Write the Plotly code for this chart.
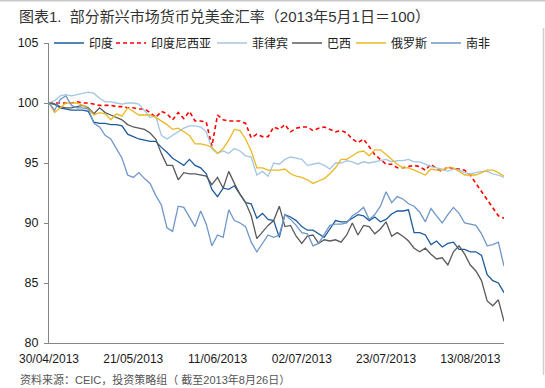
import plotly.graph_objects as go

# ---- data ----
dates = (["30/04/2013"]
         + [f"{d:02d}/05/2013" for d in [1, 2, 3, 6, 7, 8, 9, 10, 13, 14, 15, 16, 17, 20, 21, 22, 23, 24, 27, 28, 29, 30, 31]]
         + [f"{d:02d}/06/2013" for d in [3, 4, 5, 6, 7, 10, 11, 12, 13, 14, 17, 18, 19, 20, 21, 24, 25, 26, 27, 28]]
         + [f"{d:02d}/07/2013" for d in [1, 2, 3, 4, 5, 8, 9, 10, 11, 12, 15, 16, 17, 18, 19, 22, 23, 24, 25, 26, 29, 30, 31]]
         + [f"{d:02d}/08/2013" for d in [1, 2, 5, 6, 7, 8, 9, 12, 13, 14, 15, 16, 19, 20, 21]])

tick_labels = ["30/04/2013", "21/05/2013", "11/06/2013", "02/07/2013", "23/07/2013", "13/08/2013"]

india = [100, 99.9, 99.6, 99.5, 99.4, 99.4, 99.4, 99.3, 98.4, 98.3, 98.3, 98.2, 98.2, 98.1, 97.4, 97.2, 97.0, 96.9, 96.8, 96.8,
         96.3, 95.9, 95.4, 95.1, 94.8, 95.3, 94.8, 94.6, 94.1, 92.8, 92.2, 92.9, 92.8, 93.1, 92.4, 91.7, 91.6, 90.4, 90.8, 90.3,
         90.2, 88.8, 90.7, 90.5, 90.2, 89.7, 89.4, 89.4, 89.1, 88.8, 89.5, 90.2, 90.1, 90.1, 90.4, 90.7, 90.6, 90.2, 90.5, 90.1,
         90.3, 90.75, 91.0, 91.0, 91.1, 89.2, 89.2, 89.0, 88.2, 88.5, 88.0, 88.3, 88.4, 87.8, 87.8, 87.6, 87.6, 87.3, 85.7, 85.2,
         85.0, 84.2]

indonesia = [100, 100, 100, 100, 100, 100.1, 100, 100, 99.9, 99.8, 99.8, 99.8, 99.7, 99.7, 99.6, 99.6, 99.5, 99.5, 99.2, 98.8,
             99.3, 99.1, 98.6, 99.2, 98.7, 99.3, 98.5, 98.5, 98.4, 96.4, 99.0, 98.6, 98.5, 98.5, 98.5, 98.3, 97.1, 97.4, 97.2, 97.2,
             98.0, 97.8, 98.2, 97.6, 97.9, 98.0, 98.0, 97.7, 97.9, 98.0, 97.8, 97.6, 97.7, 97.5, 97.0, 96.7, 97.0, 96.4, 95.7, 95.3,
             94.9, 94.9, 94.6, 94.6, 94.7, 94.8, 94.7, 94.4, 94.9, 94.5, 94.3, 94.7, 94.5, 94.5, 94.4, 94.0, 93.3, 92.6, 92.0, 91.3,
             90.6, 90.4]

philippines = [100, 100.2, 100.6, 100.7, 100.6, 100.7, 100.8, 100.9, 100.8, 100.4, 100.1, 100.1, 100, 99.9, 100, 100, 99.9, 99.3, 98.8, 98.9,
               97.3, 97.0, 97.3, 97.6, 97.9, 98.1, 98.1, 98.0, 97.6, 96.2, 95.8, 96.0, 95.8, 96.2, 96.0, 95.6, 95.5, 94.0, 94.3, 93.9,
               95.0, 94.9, 95.3, 95.5, 95.4, 95.3, 94.8, 94.9, 95.0, 94.8, 94.5, 95.0, 95.0, 95.2, 95.1, 94.9, 95.1, 95.0, 95.1, 95.2,
               95.3, 95.1, 95.2, 95.2, 95.3, 95.1, 95.1, 94.9, 94.7, 94.6, 94.5, 94.3, 94.5, 94.4, 94.2, 94.1, 94.2, 94.3, 94.3, 94.1,
               94.0, 93.8]

brazil = [100, 99.9, 99.7, 99.6, 99.6, 99.7, 99.8, 99.6, 99.1, 99.6, 99.2, 99.0, 98.8, 98.6, 98.2, 98.0, 97.9, 97.8, 97.5, 97.0,
          95.8, 94.8, 94.8, 93.6, 94.2, 94.1, 94.1, 94.0, 93.9, 93.2, 93.8, 92.9, 94.3, 93.3, 92.4, 91.7, 90.6, 88.7, 89.3, 89.8,
          90.2, 91.4, 89.7, 89.8, 88.9, 88.3, 88.9, 89.0, 88.3, 88.6, 88.5, 88.6, 88.4, 89.0, 90.0, 89.0, 89.8, 89.7, 89.1, 89.5,
          90.1, 88.9, 89.2, 88.9, 88.5, 87.9, 87.6, 87.9, 87.4, 87.0, 87.1, 86.5, 87.6, 88.1, 87.4, 86.5, 86.0, 85.2, 83.5, 83.1,
          83.6, 81.8]

russia = [100, 99.2, 99.6, 100, 100, 100, 99.8, 99.5, 99.0, 99.2, 99.1, 98.6, 99.1, 98.9, 99.6, 99.3, 99.0, 99.0, 99.0, 98.8,
          98.5, 98.2, 97.8, 97.9, 97.6, 97.3, 96.6, 96.6, 96.5, 96.3, 95.8, 96.2, 96.9, 97.8, 97.7, 97.0, 96.0, 94.6, 94.6, 94.4,
          94.4, 94.4, 94.5, 94.1, 93.9, 93.8, 93.6, 93.3, 93.5, 93.7, 94.1, 94.6, 95.3, 95.3, 95.6, 95.9, 96.0, 95.6, 96.1, 96.1,
          95.7, 95.3, 94.9, 94.6, 94.6, 94.4, 94.2, 94.0, 94.5, 94.4, 94.4, 94.6, 94.6, 94.3, 94.0, 94.0, 94.0, 94.2, 94.4, 94.4,
          94.2, 93.9]

south_africa = [100, 99.4, 100.3, 100.6, 99.8, 99.6, 99.6, 99.5, 98.3, 98.0, 97.3, 97.0, 96.2, 95.4, 94.0, 93.8, 94.2, 93.7, 93.3, 92.3,
                91.5, 89.6, 89.3, 91.4, 91.3, 90.5, 89.7, 91.0, 89.9, 88.1, 89.0, 88.8, 91.1, 90.2, 90.0, 89.7, 88.4, 87.6, 88.3, 89.0,
                88.8, 89.0, 90.7, 90.3, 89.8, 89.2, 89.1, 88.1, 88.3, 89.1, 89.8, 89.9, 89.9, 90.0, 90.6, 90.9, 91.3, 90.3, 90.7, 91.4,
                92.6, 91.7, 92.2, 92.0, 91.6, 91.4, 90.9, 90.1, 91.2, 90.6, 90.0, 90.7, 91.3, 90.8, 90.0, 89.9, 89.8, 89.1, 88.1, 88.2,
                88.4, 86.4]

series_names = ["印度", "印度尼西亚", "菲律宾", "巴西", "俄罗斯", "南非"]
series_values = [india, indonesia, philippines, brazil, russia, south_africa]

# ---- styling ----
colors = ["#1B5A9C", "#FF0000", "#A3C6E3", "#5A5A5A", "#EBB823", "#6E96CA"]
dashes = ["solid", "4px,3px", "solid", "solid", "solid", "solid"]
widths = [1.3, 1.6, 1.3, 1.3, 1.3, 1.3]
legend_widths = [17, 56, 30, 19, 30, 25]
FONT = "Liberation Sans, Arial, Noto Sans CJK SC, sans-serif"

W, H = 545, 388
ML, MR, MT, MB = 49, 41, 43, 45
PW, PH = W - ML - MR, H - MT - MB


def px_x(p):
    return (p - ML) / PW


def px_y(p):
    return (H - MB - p) / PH


fig = go.Figure()
for name, vals, c, d, w, lw in zip(series_names, series_values, colors, dashes, widths, legend_widths):
    fig.add_trace(go.Scatter(x=dates, y=vals, mode="lines", name=name,
                             line=dict(color=c, width=w, dash=d),
                             legendwidth=lw))

fig.update_layout(
    width=W, height=H,
    margin=dict(l=ML, r=MR, t=MT, b=MB, pad=0),
    paper_bgcolor="white", plot_bgcolor="white",
    font=dict(family=FONT, size=12, color="#1a1a1a"),
    showlegend=True,
    legend=dict(orientation="h", x=px_x(49), xanchor="left", y=1.0, yanchor="middle",
                font=dict(size=12, color="#1a1a1a"), bgcolor="rgba(0,0,0,0)",
                itemwidth=30, tracegroupgap=0),
    xaxis=dict(type="category", range=[0, len(dates) - 1], tickmode="array", tickvals=tick_labels,
               ticktext=tick_labels, showline=True, linecolor="#868686", linewidth=1,
               ticks="", showgrid=False, zeroline=False, tickangle=0,
               tickfont=dict(size=12, color="#1a1a1a"), ticklabelstandoff=5),
    yaxis=dict(range=[80, 105], tickmode="linear", tick0=80, dtick=5, showline=True,
               linecolor="#868686", linewidth=1, ticks="outside", ticklen=4, tickcolor="#868686",
               showgrid=False, zeroline=False, tickfont=dict(size=12.5, color="#1a1a1a"),
               ticklabelstandoff=3),
    annotations=[
        dict(text="图表1.  部分新兴市场货币兑美金汇率（2013年5月1日＝100）", xref="paper", yref="paper",
             x=px_x(17), y=px_y(16.5), xanchor="left", yanchor="middle", showarrow=False,
             font=dict(size=15, color="#333333", family=FONT)),
        dict(text="资料来源：CEIC，投资策略组（ 截至2013年8月26日）", xref="paper", yref="paper",
             x=px_x(18), y=px_y(379), xanchor="left", yanchor="middle", showarrow=False,
             font=dict(size=11, color="#555555", family=FONT)),
    ],
    shapes=[
        dict(type="line", xref="paper", yref="paper", x0=px_x(0), x1=px_x(545), y0=px_y(0.7), y1=px_y(0.7),
             line=dict(color="#C8C8C8", width=1.5)),
        dict(type="line", xref="paper", yref="paper", x0=px_x(543.5), x1=px_x(543.5), y0=px_y(375), y1=px_y(28),
             line=dict(color="#D0D0D0", width=1.5)),
    ],
)

fig.write_html("out.html", config={"displayModeBar": False},
               post_script="document.body.style.margin='0';document.body.style.padding='0';")
